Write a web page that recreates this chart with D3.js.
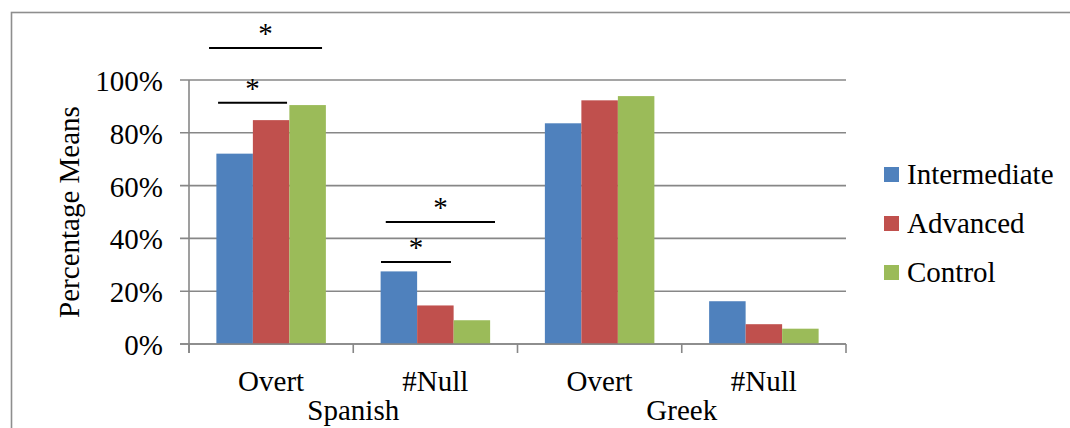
<!DOCTYPE html>
<html>
<head>
<meta charset="utf-8">
<script src="https://cdn.jsdelivr.net/npm/d3@7"></script>
<style>
  html, body { margin: 0; padding: 0; background: #fff; }
  svg { display: block; }
  svg text { font-family: "Liberation Serif", "DejaVu Serif", "Times New Roman", serif; }
</style>
</head>
<body>
<svg id="chart" width="1070" height="428"></svg>
<script>
// Categories: language group and pronoun type
const languages = ["Spanish", "Greek"];
const pronounTypes = ["Overt", "#Null"];
const categories = ["Spanish Overt", "Spanish #Null", "Greek Overt", "Greek #Null"];
const categoryLabels = ["Overt", "#Null", "Overt", "#Null"];

// Proficiency groups
const seriesNames = ["Intermediate", "Advanced", "Control"];
const seriesColors = ["#4F81BD", "#C0504D", "#9BBB59"];

// Percentage means per group, in category order
const intermediate = [0.721, 0.275, 0.836, 0.162];
const advanced     = [0.848, 0.146, 0.923, 0.075];
const control      = [0.905, 0.090, 0.939, 0.058];

// Value axis ticks
const yTicks = [0, 0.2, 0.4, 0.6, 0.8, 1.0];
const yTickLabels = ["0%", "20%", "40%", "60%", "80%", "100%"];

// Significance brackets: category, horizontal span within the category band, level
const sigCategory = ["Spanish Overt", "Spanish Overt", "Spanish #Null", "Spanish #Null"];
const sigStart    = [0.122, 0.177, 0.198, 0.169];
const sigEnd      = [0.810, 0.597, 0.863, 0.595];
const sigLevel    = [1.121, 0.914, 0.462, 0.311];

const series = [intermediate, advanced, control];

const serif = "'Liberation Serif', 'DejaVu Serif', 'Times New Roman', serif";
const svg = d3.select("#chart").attr("font-family", serif);
const plot = { left: 189, right: 846, top: 80, bottom: 344 };
const axisColor = "#878787";
const fontSize = 29;

// outer chart frame
svg.append("rect")
  .attr("x", 11.5).attr("y", 12.5)
  .attr("width", 1100).attr("height", 500)
  .attr("fill", "none")
  .attr("stroke", "#8e8e8e")
  .attr("stroke-width", 1.6);

const x = d3.scaleBand().domain(categories).range([plot.left, plot.right]).padding(0);
const xs = d3.scaleBand().domain(seriesNames).range([0, x.bandwidth()])
  .paddingInner(0).paddingOuter(0.75);
const y = d3.scaleLinear().domain([0, 1]).range([plot.bottom, plot.top]);

// gridlines with tick stubs to the left of the axis
svg.append("g").selectAll("line")
  .data(yTicks)
  .join("line")
  .attr("x1", plot.left - 9).attr("x2", plot.right)
  .attr("y1", d => y(d)).attr("y2", d => y(d))
  .attr("stroke", axisColor).attr("stroke-width", 1.6);

// value axis line
svg.append("line")
  .attr("x1", plot.left).attr("x2", plot.left)
  .attr("y1", y(1)).attr("y2", plot.bottom + 9)
  .attr("stroke", axisColor).attr("stroke-width", 1.6);

// category boundary ticks
const boundaries = categories.map(c => x(c)).concat([plot.right]);
svg.append("g").selectAll("line")
  .data(boundaries)
  .join("line")
  .attr("x1", d => d).attr("x2", d => d)
  .attr("y1", plot.bottom).attr("y2", plot.bottom + 9)
  .attr("stroke", axisColor).attr("stroke-width", 1.6);

// text helper so every label uses the same serif face
function label(sel) {
  return sel.attr("font-family", serif).attr("font-size", fontSize).attr("fill", "#000");
}

// value tick labels
svg.append("g").selectAll("text")
  .data(yTicks)
  .join("text")
  .call(label)
  .attr("x", 163)
  .attr("y", d => y(d) + 11)
  .attr("text-anchor", "end")
  .text((d, i) => yTickLabels[i]);

// bars
series.forEach((vals, si) => {
  svg.append("g").selectAll("rect")
    .data(categories.map((c, ci) => ({ c, v: vals[ci] })))
    .join("rect")
    .attr("x", d => x(d.c) + xs(seriesNames[si]))
    .attr("y", d => y(d.v))
    .attr("width", xs.bandwidth())
    .attr("height", d => y(0) - y(d.v))
    .attr("fill", seriesColors[si]);
});

// redraw the baseline over the bars
svg.append("line")
  .attr("x1", plot.left - 9).attr("x2", plot.right)
  .attr("y1", y(0)).attr("y2", y(0))
  .attr("stroke", axisColor).attr("stroke-width", 1.6);

// category labels
svg.append("g").selectAll("text")
  .data(categories)
  .join("text")
  .call(label)
  .attr("x", d => x(d) + x.bandwidth() / 2)
  .attr("y", 391)
  .attr("text-anchor", "middle")
  .text((d, i) => categoryLabels[i]);

// language group labels
svg.append("g").selectAll("text")
  .data(languages)
  .join("text")
  .call(label)
  .attr("x", lang => {
    const first = x(lang + " " + pronounTypes[0]);
    const last = x(lang + " " + pronounTypes[pronounTypes.length - 1]) + x.bandwidth();
    return (first + last) / 2;
  })
  .attr("y", 420)
  .attr("text-anchor", "middle")
  .text(d => d);

// value axis title
svg.append("text")
  .call(label)
  .attr("transform", `translate(79, ${(plot.top + plot.bottom) / 2}) rotate(-90)`)
  .attr("text-anchor", "middle")
  .text("Percentage Means");

// significance brackets with asterisks
const sig = sigCategory.map((c, i) => ({
  x1: x(c) + sigStart[i] * x.bandwidth(),
  x2: x(c) + sigEnd[i] * x.bandwidth(),
  yv: y(sigLevel[i])
}));
const sigG = svg.append("g");
sigG.selectAll("line")
  .data(sig)
  .join("line")
  .attr("x1", d => d.x1).attr("x2", d => d.x2)
  .attr("y1", d => d.yv).attr("y2", d => d.yv)
  .attr("stroke", "#000").attr("stroke-width", 2);
sigG.selectAll("text")
  .data(sig)
  .join("text")
  .call(label)
  .attr("x", d => (d.x1 + d.x2) / 2)
  .attr("y", d => d.yv - 5)
  .attr("text-anchor", "middle")
  .text("*");

// legend
const legend = svg.append("g");
seriesNames.forEach((name, i) => {
  legend.append("rect")
    .attr("x", 884).attr("y", 167 + i * 49)
    .attr("width", 15).attr("height", 15)
    .attr("fill", seriesColors[i]);
  legend.append("text")
    .call(label)
    .attr("x", 907).attr("y", 184 + i * 49)
    .text(name);
});
</script>
</body>
</html>
